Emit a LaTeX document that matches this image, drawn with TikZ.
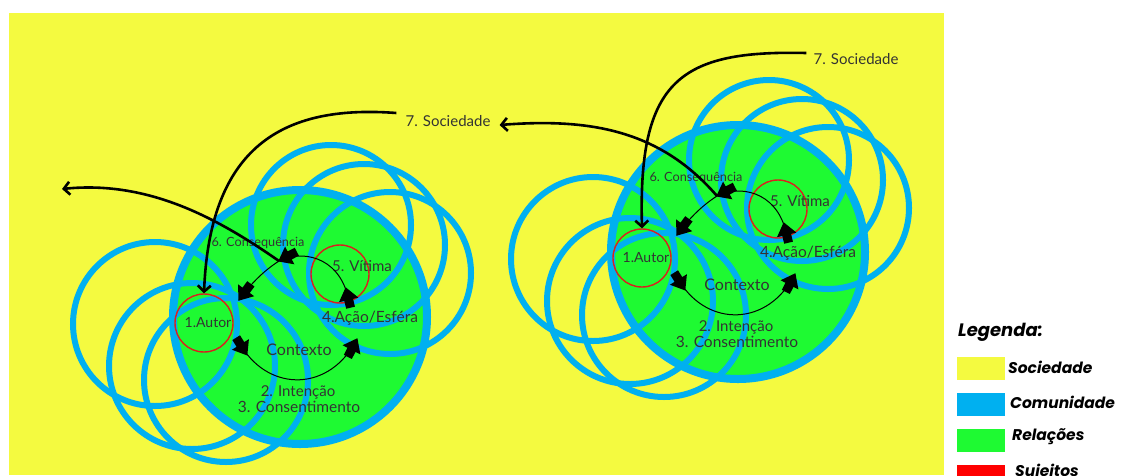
\documentclass[tikz,border=0pt]{standalone}
\usepackage{fontspec}
\setmainfont{Lato}
\newfontfamily\legfont{Poppins}
\usetikzlibrary{decorations.markings, arrows.meta}
\definecolor{amarelo}{RGB}{244,250,64}
\definecolor{azul}{RGB}{0,176,240}
\definecolor{verde}{RGB}{30,250,50}
\definecolor{vermelho}{RGB}{220,30,30}
\newcommand{\setagrossa}[1]{\fill[xshift=#1] (-8pt,-4.5pt) -- (1pt,-4.5pt) -- (1pt,4.5pt) -- (-8pt,4.5pt) -- cycle (0pt,-10pt) -- (13pt,0pt) -- (0pt,10pt) -- cycle;}
\tikzset{
  comunidade/.style={draw=azul, line width=6pt},
  sujeito/.style={circle, draw=vermelho, line width=1.4pt, minimum size=58pt, inner sep=0pt},
  rotulo/.style={text=black!80, inner sep=1pt, font=\fontsize{15}{17}\selectfont},
  duaspontas/.style={line width=1pt, postaction=decorate, decoration={markings,
    mark=at position 0 with {\setagrossa{-3pt}}, mark=at position 0.999 with {\setagrossa{-12pt}}}},
  umaponta/.style={line width=1pt, postaction=decorate, decoration={markings,
    mark=at position 0.999 with {\setagrossa{-12pt}}}},
  grossa/.style={line width=2.6pt, -{Straight Barb[length=6pt,width=13pt]}},
  amostra/.style={minimum width=48pt, minimum height=23pt, inner sep=0pt},
  legtexto/.style={anchor=west, inner sep=0pt, font=\legfont\bfseries\itshape\fontsize{15.5}{17}\selectfont}
}
\begin{document}
\begin{tikzpicture}[x=1pt, y=-1pt]
\useasboundingbox (0,0) rectangle (1124,475);
% fundo: sociedade
\fill[amarelo] (9,13) rectangle (944,475);
% os dois esquemas
\foreach \p/\dx/\dy in {L/0/0, R/438/-65} {
\begin{scope}[shift={(\dx,\dy)}, name prefix=\p]
  % relacoes
  \fill[verde] (300,317) circle[radius=127];
  % comunidade
  \draw[comunidade] (155,324) circle[radius=82];
  \draw[comunidade] (192,366) circle[radius=83];
  \draw[comunidade] (226,380) circle[radius=82];
  \draw[comunidade] (331,225) circle[radius=80];
  \draw[comunidade] (364,245) circle[radius=81];
  \draw[comunidade] (390,273) circle[radius=81];
  \draw[comunidade, line width=8pt] (300,317) circle[radius=127];
  % sujeitos
  \node[sujeito] (autor) at (204,323) {};
  \node[sujeito] (vitima) at (340,274) {};
  \node[rotulo, font=\fontsize{14}{16}\selectfont] (tautor) at (208,323) {1.Autor};
  \node[rotulo] (tvitima) at (362,266) {5. Vítima};
  \node[rotulo, font=\fontsize{15.5}{17}\selectfont] (acao) at (370,318) {4.Ação/Esféra};
  \node[rotulo, font=\fontsize{12.7}{15}\selectfont] (conseq) at (258,243) {6. Consequência};
  \node[rotulo, font=\fontsize{16}{18}\selectfont] (contexto) at (299,350) {Contexto};
  \node[rotulo] (intencao) at (298,392) {2. Intenção};
  \node[rotulo, font=\fontsize{15.5}{17}\selectfont] (consent) at (299,407) {3. Consentimento};
  % pontas das setas
  \coordinate (pa) at (242,347);
  \coordinate (pb) at (357,339);
  \coordinate (pv) at (348,297);
  \coordinate (pc) at (279,261);
  \coordinate (pd) at (239,300);
  \draw[duaspontas] (pa) .. controls (270,392) and (330,392) .. (pb);
  \draw[duaspontas] (pv) .. controls (338,255) and (300,250) .. (pc);
  \draw[umaponta] (pc) .. controls (262,272) and (250,285) .. (pd);
\end{scope}
}
% sociedade
\node[rotulo] (socL) at (448,121) {7. Sociedade};
\node[rotulo] (socR) at (856,59) {7. Sociedade};
\coordinate (fora) at (62,189);
\draw[grossa] ([xshift=-8pt,yshift=8pt]socL.west) .. controls (290,105) and (210,140) .. (Lautor.north);
\draw[grossa] (Lpc) .. controls (220,220) and (150,180) .. (fora);
\draw[grossa] ([xshift=-6pt,yshift=6pt]socR.west) .. controls (680,50) and (638,80) .. (Rautor.north);
\draw[grossa] (Rpc) .. controls (660,130) and (590,118) .. ([xshift=8pt,yshift=-4pt]socL.east);
% legenda
\node[legtexto, font=\legfont\bfseries\itshape\fontsize{18}{20}\selectfont] (legenda) at (958,332) {Legenda:};
\node[amostra, fill=amarelo] (c1) at (981,368) {};
\node[amostra, fill=azul] (c2) at (981,404) {};
\node[amostra, fill=verde] (c3) at (981,440) {};
\node[amostra, fill=red] (c4) at (981,476) {};
\node[legtexto] (t1) at (1008,367) {Sociedade};
\node[legtexto] (t2) at (1010,402) {Comunidade};
\node[legtexto] (t3) at (1012,437) {Relações};
\node[legtexto] (t4) at (1015,472) {Sujeitos};
\end{tikzpicture}
\end{document}
